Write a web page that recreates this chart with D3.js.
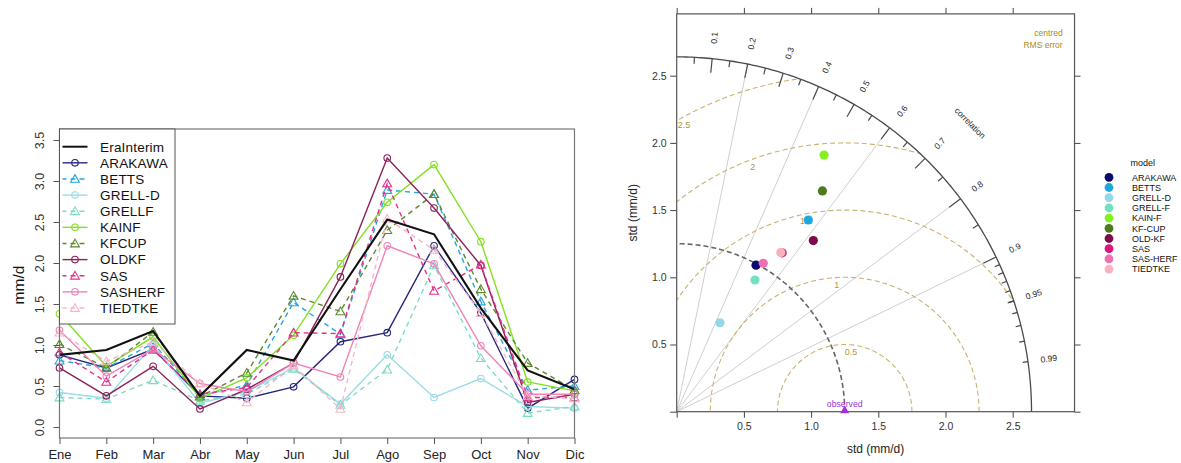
<!DOCTYPE html>
<html>
<head>
<meta charset="utf-8">
<script src="https://cdn.jsdelivr.net/npm/d3@7"></script>
<style>
  html, body { margin: 0; padding: 0; background: #fff; }
  svg { display: block; font-family: "Liberation Sans", Arial, Helvetica, sans-serif; }
</style>
</head>
<body>
<svg id="chart" width="1181" height="463"></svg>
<script>
// ---------- Monthly precipitation (mm/d) ----------
const months = ["Ene", "Feb", "Mar", "Abr", "May", "Jun", "Jul", "Ago", "Sep", "Oct", "Nov", "Dic"];
const yTicksMonthly = [0, 0.5, 1, 1.5, 2, 2.5, 3, 3.5];

const eraInterim = [0.88, 0.94, 1.17, 0.38, 0.94, 0.81, 1.68, 2.53, 2.35, 1.45, 0.69, 0.46];
const arakawa    = [0.88, 0.72, 0.95, 0.38, 0.35, 0.49, 1.04, 1.15, 2.21, 1.39, 0.23, 0.58];
const betts      = [0.81, 0.72, 1.02, 0.38, 0.51, 1.52, 1.13, 2.89, 2.84, 1.53, 0.45, 0.50];
const grellD     = [0.42, 0.35, 1.00, 0.29, 0.43, 0.72, 0.28, 0.88, 0.36, 0.59, 0.25, 0.23];
const grellF     = [0.36, 0.34, 0.57, 0.32, 0.40, 0.71, 0.27, 0.70, 1.97, 0.84, 0.17, 0.25];
const kainF      = [1.38, 0.74, 1.10, 0.35, 0.60, 1.12, 1.99, 2.74, 3.20, 2.26, 0.55, 0.44];
const kfCup      = [1.01, 0.72, 1.16, 0.37, 0.66, 1.60, 1.41, 2.40, 2.84, 1.68, 0.78, 0.45];
const oldKf      = [0.72, 0.38, 0.74, 0.22, 0.46, 0.78, 1.83, 3.28, 2.67, 1.97, 0.30, 0.40];
const sas        = [0.91, 0.55, 0.94, 0.40, 0.48, 1.15, 1.14, 2.97, 1.66, 1.98, 0.36, 0.36];
const sasHerf    = [1.18, 0.62, 0.95, 0.53, 0.43, 0.78, 0.61, 2.21, 1.99, 0.99, 0.40, 0.40];
const tiedtke    = [1.15, 0.80, 1.04, 0.53, 0.30, 0.75, 0.22, 2.54, 2.16, 1.39, 0.38, 0.35];

// ---------- Taylor diagram statistics ----------
const taylorModels = ["ARAKAWA", "BETTS", "GRELL-D", "GRELL-F", "KAIN-F", "KF-CUP", "OLD-KF", "SAS", "SAS-HERF", "TIEDTKE"];
const taylorSd     = [1.240, 1.730, 0.736, 1.140, 2.202, 1.968, 1.629, 1.419, 1.278, 1.416];
const taylorCor    = [0.476, 0.566, 0.437, 0.511, 0.498, 0.551, 0.624, 0.553, 0.504, 0.547];
const observedSd = 1.25;
const maxSd = 2.64;
const sdTicks = [0, 0.5, 1, 1.5, 2, 2.5];
const corrLabels = [0.1, 0.2, 0.3, 0.4, 0.5, 0.6, 0.7, 0.8, 0.9, 0.95, 0.99];
const corrLines = [0.2, 0.4, 0.6, 0.8, 0.9];
const rmsLevels = [0.5, 1, 1.5, 2, 2.5];

const svg = d3.select("#chart");

// =====================================================================
// Left panel: monthly cycle
// =====================================================================
const L = { left: 59.5, right: 574.5, top: 129, bottom: 438 };
const xL = d3.scalePoint().domain(months).range([L.left, L.right]);
const yL = d3.scaleLinear().domain([0, 3.5]).range([427, 140]);

const gL = svg.append("g");

const series = [
  { name: "ARAKAWA", values: arakawa, color: "#26267f", dashed: false },
  { name: "BETTS",   values: betts,   color: "#27a6dc", dashed: true },
  { name: "GRELL-D", values: grellD,  color: "#9bdce9", dashed: false },
  { name: "GRELLF",  values: grellF,  color: "#7fdcc4", dashed: true },
  { name: "KAINF",   values: kainF,   color: "#84e024", dashed: false },
  { name: "KFCUP",   values: kfCup,   color: "#5b8a2c", dashed: true },
  { name: "OLDKF",   values: oldKf,   color: "#8a2158", dashed: false },
  { name: "SAS",     values: sas,     color: "#e3308c", dashed: true },
  { name: "SASHERF", values: sasHerf, color: "#ee84b8", dashed: false },
  { name: "TIEDTKE", values: tiedtke, color: "#f7b6c8", dashed: true }
];

const lineL = d3.line().x((d, i) => xL(months[i])).y(d => yL(d));
const triangle = d3.symbol().type(d3.symbolTriangle).size(34);

function drawMarker(g, x, y, s) {
  if (s.dashed) {
    g.append("path").attr("d", triangle()).attr("transform", `translate(${x},${y + 0.8})`)
      .attr("fill", "none").attr("stroke", s.color).attr("stroke-width", 1.1);
  } else {
    g.append("circle").attr("cx", x).attr("cy", y).attr("r", 3.3)
      .attr("fill", "none").attr("stroke", s.color).attr("stroke-width", 1.1);
  }
}

series.forEach(s => {
  gL.append("path").datum(s.values).attr("d", lineL)
    .attr("fill", "none").attr("stroke", s.color).attr("stroke-width", 1.4)
    .attr("stroke-dasharray", s.dashed ? "5,4" : null);
  s.values.forEach((v, i) => drawMarker(gL, xL(months[i]), yL(v), s));
});

gL.append("path").datum(eraInterim).attr("d", lineL)
  .attr("fill", "none").attr("stroke", "#111").attr("stroke-width", 2.1);

// frame
gL.append("rect").attr("x", L.left).attr("y", L.top)
  .attr("width", L.right - L.left).attr("height", L.bottom - L.top)
  .attr("fill", "none").attr("stroke", "#777").attr("stroke-width", 1.2);

// y axis
const axYL = gL.append("g").attr("transform", `translate(${L.left},0)`)
  .call(d3.axisLeft(yL).tickValues(yTicksMonthly).tickSize(6).tickFormat(d3.format(".1f")));
axYL.select(".domain").remove();
axYL.selectAll("line").attr("stroke", "#555");
axYL.selectAll("text").attr("x", null).attr("dy", null)
  .attr("transform", "translate(-16,0) rotate(-90)")
  .attr("text-anchor", "middle").attr("fill", "#333")
  .style("font-size", "12.5px").style("font-family", "'Liberation Sans', Arial, sans-serif");

// x axis
const axXL = gL.append("g").attr("transform", `translate(0,${L.bottom})`)
  .call(d3.axisBottom(xL).tickSize(6).tickPadding(6));
axXL.select(".domain").remove();
axXL.selectAll("line").attr("stroke", "#555");
axXL.selectAll("text").attr("fill", "#222")
  .style("font-size", "13px").style("font-family", "'Liberation Sans', Arial, sans-serif");

gL.append("text").attr("transform", "translate(24,285) rotate(-90)")
  .attr("text-anchor", "middle").attr("fill", "#111")
  .style("font-size", "15.5px").text("mm/d");

// legend
const leg = gL.append("g");
leg.append("rect").attr("x", L.left).attr("y", L.top).attr("width", 175 - L.left).attr("height", 324 - L.top)
  .attr("fill", "#fff").attr("stroke", "#555").attr("stroke-width", 1);
const legItems = [{ name: "EraInterim", color: "#111", dashed: false, era: true }].concat(series);
legItems.forEach((s, i) => {
  const y = 146.7 + i * 16.13;
  leg.append("line").attr("x1", 62.5).attr("x2", 87.5).attr("y1", y).attr("y2", y)
    .attr("stroke", s.color).attr("stroke-width", s.era ? 2 : 1.4)
    .attr("stroke-dasharray", s.dashed ? "5,4" : null)
    .attr("stroke-dashoffset", s.dashed ? 1 : null);
  if (!s.era) drawMarker(leg, 75, y, s);
  leg.append("text").attr("x", 100).attr("y", y + 4.8).attr("fill", "#111")
    .style("font-size", "13.5px").style("letter-spacing", "0.2px").text(s.name);
});

// =====================================================================
// Right panel: Taylor diagram
// =====================================================================
const T = { left: 676.7, bottom: 411.7, k: 134.4, max: 2.96 };
const xT = d3.scaleLinear().domain([0, T.max]).range([T.left, T.left + T.max * T.k]);
const yT = d3.scaleLinear().domain([0, T.max]).range([T.bottom, T.bottom - T.max * T.k]);
const gT = svg.append("g");
const pathT = d3.line().x(d => xT(d[0])).y(d => yT(d[1]));

function arcPoints(cx, r, a0, a1, n = 180) {
  return d3.range(n + 1).map(i => {
    const a = a0 + (a1 - a0) * i / n;
    return [cx + r * Math.cos(a), r * Math.sin(a)];
  });
}

// quarter-disc clip for the centred RMS arcs
const quarter = [[0, 0]].concat(arcPoints(0, maxSd, 0, Math.PI / 2)).concat([[0, 0]]);
svg.append("defs").append("clipPath").attr("id", "quarterClip")
  .append("path").attr("d", pathT(quarter) + "Z");

// radial correlation guides
corrLines.forEach(c => {
  gT.append("path").attr("d", pathT([[0, 0], [maxSd * c, maxSd * Math.sqrt(1 - c * c)]]))
    .attr("stroke", "#cfcfcf").attr("stroke-width", 1).attr("fill", "none");
});

// centred RMS arcs
const gRms = gT.append("g").attr("clip-path", "url(#quarterClip)");
rmsLevels.forEach(r => {
  gRms.append("path").attr("d", pathT(arcPoints(observedSd, r, 0, Math.PI)))
    .attr("fill", "none").attr("stroke", "#cdb071").attr("stroke-width", 1.1)
    .attr("stroke-dasharray", "5,3");
});
const rmsLabelAngle = [84, 93.6, 101.4, 110.6, 119.3];
rmsLevels.forEach((r, i) => {
  const a = rmsLabelAngle[i] * Math.PI / 180;
  const rr = r - 0.055;
  gT.append("text").attr("x", xT(observedSd + rr * Math.cos(a))).attr("y", yT(rr * Math.sin(a)) + 3)
    .attr("text-anchor", "middle").attr("fill", "#b5973a")
    .style("font-size", "9px").text(r);
});

// observed std arc
gT.append("path").attr("d", pathT(arcPoints(0, observedSd, 0, Math.PI / 2)))
  .attr("fill", "none").attr("stroke", "#666").attr("stroke-width", 1.6)
  .attr("stroke-dasharray", "5,3");

// outer correlation arc with ticks
gT.append("path").attr("d", pathT(arcPoints(0, maxSd, 0, Math.PI / 2)))
  .attr("fill", "none").attr("stroke", "#4a4a4a").attr("stroke-width", 1.3);

function arcTick(c, inner) {
  const s = Math.sqrt(1 - c * c);
  gT.append("path").attr("d", pathT([[maxSd * c, maxSd * s], [maxSd * inner * c, maxSd * inner * s]]))
    .attr("stroke", "#4a4a4a").attr("stroke-width", 1.2);
}
d3.range(0.1, 0.91, 0.1).forEach(c => arcTick(c, 0.96));
d3.range(0.05, 0.96, 0.1).forEach(c => arcTick(c, 0.982));
d3.range(0.91, 0.995, 0.01).forEach(c => arcTick(c, 0.985));

corrLabels.forEach(c => {
  const a = Math.acos(c);
  const r = maxSd * 1.059;
  gT.append("text")
    .attr("transform", `translate(${xT(r * Math.cos(a))},${yT(r * Math.sin(a))}) rotate(${-a * 180 / Math.PI})`)
    .attr("text-anchor", "middle").attr("dy", "0.35em").attr("fill", "#222")
    .style("font-size", "8.5px").text(c);
});
{
  const a = Math.PI / 4 - 0.008, r = maxSd * 1.16;
  gT.append("text")
    .attr("transform", `translate(${xT(r * Math.cos(a))},${yT(r * Math.sin(a))}) rotate(45)`)
    .attr("text-anchor", "middle").attr("dy", "0.35em").attr("fill", "#222")
    .style("font-size", "8.5px").text("correlation");
}

// axes
function styleAxis(g, withLabels) {
  g.select(".domain").remove();
  g.selectAll("line").attr("stroke", "#444");
  g.selectAll("text").attr("fill", "#333")
    .style("font-size", "10.5px").style("font-family", "'Liberation Sans', Arial, sans-serif");
  if (!withLabels) g.selectAll("text").remove();
}
const fmtSd = d => d === 0 ? "" : d3.format(".1f")(d);
styleAxis(gT.append("g").attr("transform", `translate(${T.left},0)`)
  .call(d3.axisLeft(yT).tickValues(sdTicks).tickSize(6.5).tickPadding(3.5).tickFormat(fmtSd)), true);
styleAxis(gT.append("g").attr("transform", `translate(0,${T.bottom})`)
  .call(d3.axisBottom(xT).tickValues(sdTicks).tickSize(6).tickPadding(4.5).tickFormat(fmtSd)), true);
styleAxis(gT.append("g").attr("transform", `translate(0,${yT(T.max)})`)
  .call(d3.axisTop(xT).tickValues(sdTicks).tickSize(6)), false);
styleAxis(gT.append("g").attr("transform", `translate(${xT(T.max)},0)`)
  .call(d3.axisRight(yT).tickValues(sdTicks).tickSize(6)), false);

gT.append("rect").attr("x", xT(0)).attr("y", yT(T.max))
  .attr("width", xT(T.max) - xT(0)).attr("height", yT(0) - yT(T.max))
  .attr("fill", "none").attr("stroke", "#555").attr("stroke-width", 1.2);

gT.append("text").attr("transform", `translate(637,${(yT(0) + yT(T.max)) / 2}) rotate(-90)`)
  .attr("text-anchor", "middle").attr("fill", "#222").style("font-size", "12px").text("std (mm/d)");
gT.append("text").attr("x", (xT(0) + xT(T.max)) / 2).attr("y", 452.5)
  .attr("text-anchor", "middle").attr("fill", "#222").style("font-size", "12px").text("std (mm/d)");

gT.append("text").attr("x", 1062.7).attr("y", 36.3).attr("text-anchor", "end")
  .attr("fill", "#a88a22").style("font-size", "8.5px").text("centred");
gT.append("text").attr("x", 1062.7).attr("y", 48).attr("text-anchor", "end")
  .attr("fill", "#a88a22").style("font-size", "8.5px").text("RMS error");

// observed reference point
gT.append("path").attr("d", d3.symbol().type(d3.symbolTriangle).size(34)())
  .attr("transform", `translate(${xT(observedSd)},${yT(0) - 1})`).attr("fill", "#9b34d6");
gT.append("text").attr("x", xT(observedSd)).attr("y", yT(0) - 4.5).attr("text-anchor", "middle")
  .attr("fill", "#9b34d6").style("font-size", "8.7px").text("observed");

// model points
const taylorColors = ["#0b0b6f", "#1ca7e0", "#92d8e8", "#72e0c1", "#84f020", "#4b7c1c",
                      "#7f0a4b", "#e0157c", "#f070b0", "#f8b1c1"];
taylorModels.forEach((m, i) => {
  const sd = taylorSd[i], c = taylorCor[i];
  gT.append("circle").attr("cx", xT(sd * c)).attr("cy", yT(sd * Math.sqrt(1 - c * c)))
    .attr("r", 4.6).attr("fill", taylorColors[i]);
});

// legend
const lgT = svg.append("g");
lgT.append("text").attr("x", 1130.5).attr("y", 166).attr("fill", "#111")
  .style("font-size", "9px").text("model");
taylorModels.forEach((m, i) => {
  const y = 177.3 + i * 10.2;
  lgT.append("circle").attr("cx", 1109).attr("cy", y).attr("r", 4.4).attr("fill", taylorColors[i]);
  lgT.append("text").attr("x", 1132).attr("y", y + 3.3).attr("fill", "#111")
    .style("font-size", "9px").text(m);
});
</script>
</body>
</html>
